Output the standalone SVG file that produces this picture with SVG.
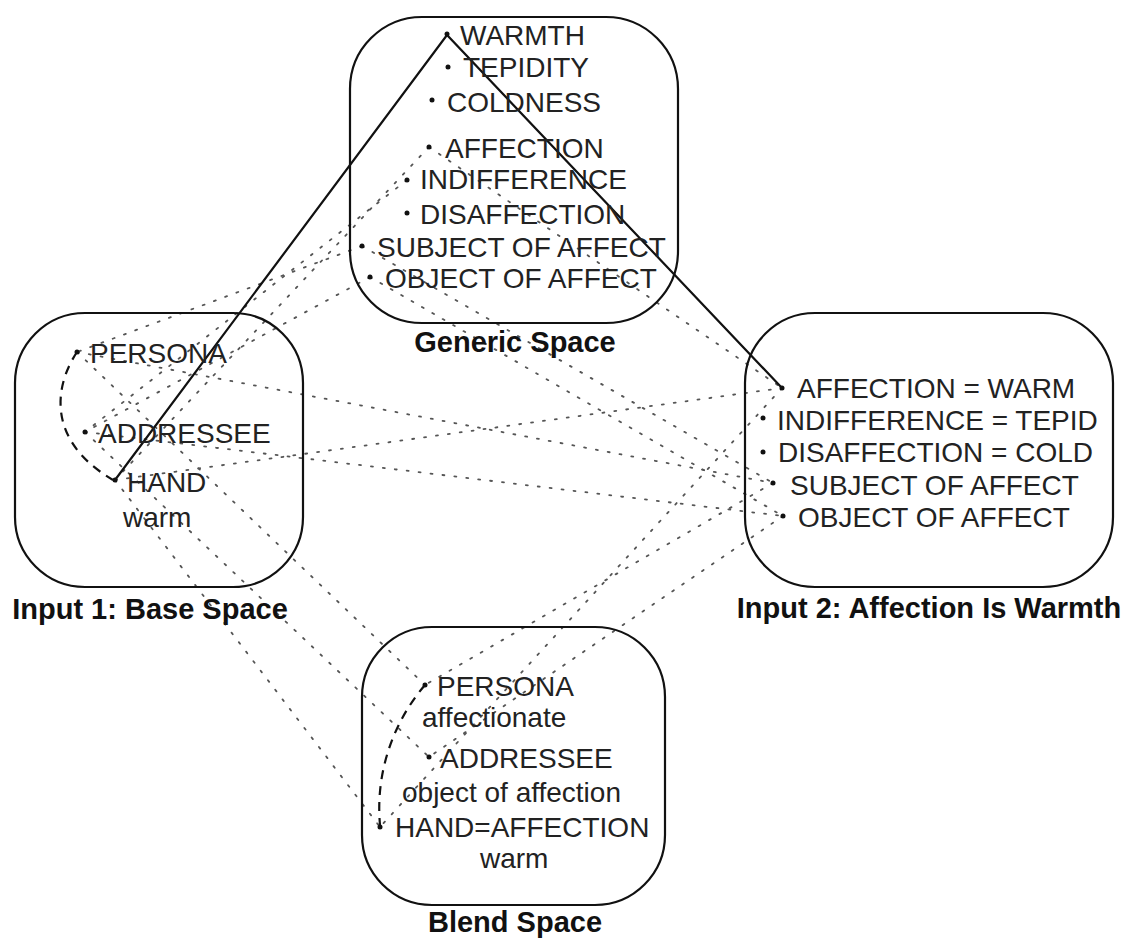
<svg xmlns="http://www.w3.org/2000/svg" width="1128" height="940" viewBox="0 0 1128 940">
<style>
.box{fill:none;stroke:#111;stroke-width:2.2}
.t{font-family:"Liberation Sans",Arial,sans-serif;font-size:28px;fill:#222}
.lbl{font-family:"Liberation Sans",Arial,sans-serif;font-size:29px;font-weight:bold;fill:#111}
.dot{fill:#111}
.solid{fill:none;stroke:#111;stroke-width:2.2}
.dash{fill:none;stroke:#111;stroke-width:2.2;stroke-dasharray:9 7}
.dotted{fill:none;stroke:#555;stroke-width:1.8;stroke-dasharray:2 10;stroke-linecap:round}
</style>
<rect width="1128" height="940" fill="#fff"/>
<g id="connectors">
<line class="dotted" x1="362" y1="246" x2="77" y2="352"/>
<line class="dotted" x1="370" y1="277" x2="85" y2="432"/>
<line class="dotted" x1="429" y1="147" x2="115" y2="480"/>
<line class="dotted" x1="407" y1="180" x2="85" y2="432"/>
<line class="dotted" x1="77" y1="352" x2="773" y2="483"/>
<line class="dotted" x1="85" y1="432" x2="783" y2="516"/>
<line class="dotted" x1="115" y1="480" x2="782" y2="388"/>
<line class="dotted" x1="429" y1="147" x2="782" y2="388"/>
<line class="dotted" x1="362" y1="246" x2="773" y2="483"/>
<line class="dotted" x1="370" y1="277" x2="783" y2="516"/>
<line class="dotted" x1="77" y1="352" x2="425" y2="685"/>
<line class="dotted" x1="85" y1="432" x2="429" y2="757"/>
<line class="dotted" x1="115" y1="480" x2="380" y2="827"/>
<line class="dotted" x1="773" y1="483" x2="425" y2="685"/>
<line class="dotted" x1="783" y1="516" x2="429" y2="757"/>
<line class="dotted" x1="782" y1="388" x2="380" y2="827"/>
<polyline class="solid" points="115,480 447,35 782,388"/>
<path class="dash" d="M77,352 C55,385 45,440 113,480"/>
<path class="dash" d="M425,685 C395,720 375,770 380,825"/>
</g>
<g id="generic">
<rect class="box" x="350" y="17" width="328" height="306" rx="72" ry="72"/>
<circle class="dot" cx="447" cy="34" r="2.5"/><text class="t" x="460" y="45">WARMTH</text>
<circle class="dot" cx="448" cy="67" r="2.5"/><text class="t" x="463" y="77">TEPIDITY</text>
<circle class="dot" cx="432" cy="100" r="2.5"/><text class="t" x="447" y="112">COLDNESS</text>
<circle class="dot" cx="429" cy="147" r="2.5"/><text class="t" x="445" y="158">AFFECTION</text>
<circle class="dot" cx="407" cy="180" r="2.5"/><text class="t" x="420" y="189">INDIFFERENCE</text>
<circle class="dot" cx="407" cy="213" r="2.5"/><text class="t" x="420" y="224">DISAFFECTION</text>
<circle class="dot" cx="362" cy="246" r="2.5"/><text class="t" x="377" y="257">SUBJECT OF AFFECT</text>
<circle class="dot" cx="370" cy="277" r="2.5"/><text class="t" x="385" y="288">OBJECT OF AFFECT</text>
<text class="lbl" x="515" y="352" text-anchor="middle">Generic Space</text>
</g>
<g id="input1">
<rect class="box" x="15" y="313" width="288" height="274" rx="70" ry="70"/>
<circle class="dot" cx="77" cy="352" r="2.5"/><text class="t" x="90" y="363">PERSONA</text>
<circle class="dot" cx="85" cy="432" r="2.5"/><text class="t" x="98" y="443">ADDRESSEE</text>
<circle class="dot" cx="115" cy="480" r="2.5"/><text class="t" x="127" y="492">HAND</text>
<text class="t" x="123" y="527">warm</text>
<text class="lbl" x="150" y="619" text-anchor="middle">Input 1: Base Space</text>
</g>
<g id="input2">
<rect class="box" x="745" y="313" width="368" height="274" rx="70" ry="70"/>
<circle class="dot" cx="782" cy="388" r="2.5"/><text class="t" x="797" y="398">AFFECTION = WARM</text>
<circle class="dot" cx="763" cy="418" r="2.5"/><text class="t" x="777" y="430">INDIFFERENCE = TEPID</text>
<circle class="dot" cx="763" cy="452" r="2.5"/><text class="t" x="778" y="462">DISAFFECTION = COLD</text>
<circle class="dot" cx="773" cy="483" r="2.5"/><text class="t" x="790" y="495">SUBJECT OF AFFECT</text>
<circle class="dot" cx="783" cy="516" r="2.5"/><text class="t" x="798" y="527">OBJECT OF AFFECT</text>
<text class="lbl" x="929" y="618" text-anchor="middle">Input 2: Affection Is Warmth</text>
</g>
<g id="blend">
<rect class="box" x="362" y="627" width="303" height="278" rx="70" ry="70"/>
<circle class="dot" cx="425" cy="685" r="2.5"/><text class="t" x="437" y="696">PERSONA</text>
<text class="t" x="422" y="727">affectionate</text>
<circle class="dot" cx="429" cy="757" r="2.5"/><text class="t" x="440" y="768">ADDRESSEE</text>
<text class="t" x="402" y="802">object of affection</text>
<circle class="dot" cx="380" cy="827" r="2.5"/><text class="t" x="395" y="837">HAND=AFFECTION</text>
<text class="t" x="480" y="868">warm</text>
<text class="lbl" x="515" y="932" text-anchor="middle">Blend Space</text>
</g>
</svg>
